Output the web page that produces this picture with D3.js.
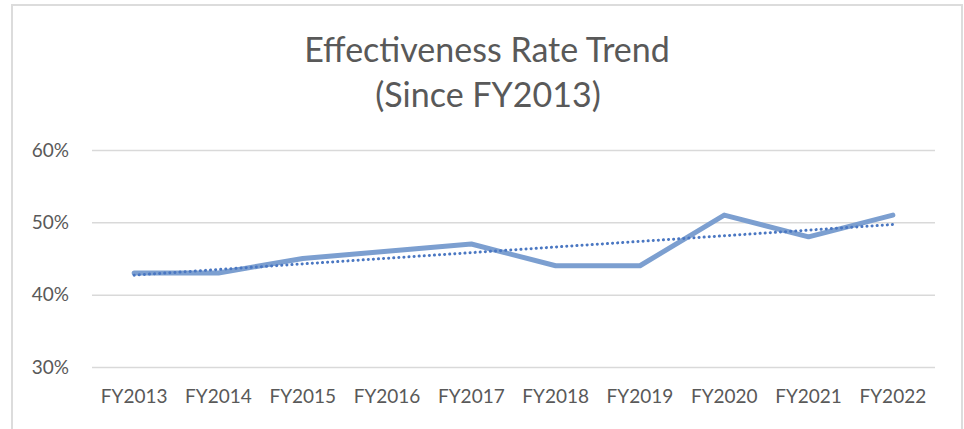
<!DOCTYPE html>
<html>
<head>
<meta charset="utf-8">
<script src="https://cdn.jsdelivr.net/npm/d3@7"></script>
<style>
  body { margin: 0; background: #fff; }
  svg { display: block; font-family: Lato, "Open Sans", sans-serif; }
</style>
</head>
<body>
<svg width="964" height="429"></svg>
<script>
var years = ["FY2013","FY2014","FY2015","FY2016","FY2017","FY2018","FY2019","FY2020","FY2021","FY2022"];
var rates = [43, 43, 45, 46, 47, 44, 44, 51, 48, 51];
// linear trendline ends
var trendEnds = [42.7, 49.7];
var yTicks = [30, 40, 50, 60];

var svg = d3.select("svg"),
    width = +svg.attr("width"),
    height = +svg.attr("height");

var margin = {left: 92, right: 29, top: 150, bottom: 62};

// chart frame
svg.append("path")
    .attr("d", "M12,430 V5 H962 V430")
    .attr("fill", "none")
    .attr("stroke", "#dcdcdc")
    .attr("stroke-width", 2);

var x = d3.scaleBand()
    .domain(years)
    .range([margin.left, width - margin.right]);

var y = d3.scaleLinear()
    .domain([30, 60])
    .range([height - margin.bottom, margin.top]);

// title
var title = svg.append("text")
    .attr("text-anchor", "middle")
    .style("font-size", "34px")
    .style("fill", "#595959");
title.append("tspan").attr("x", 487).attr("y", 62).text("Effectiveness Rate Trend");
title.append("tspan").attr("x", 488).attr("y", 107).text("(Since FY2013)");

// gridlines + y labels
var yAxis = svg.append("g")
    .attr("transform", "translate(" + margin.left + ",0)")
    .call(d3.axisLeft(y).tickValues(yTicks)
      .tickSize(-(width - margin.left - margin.right))
      .tickPadding(23)
      .tickFormat(function(d) { return d + "%"; }));
yAxis.select(".domain").remove();
yAxis.selectAll(".tick line").attr("stroke", "#d9d9d9").attr("stroke-width", 1.5);
yAxis.selectAll(".tick text")
    .style("font-size", "19px")
    .style("fill", "#595959")
    .style("font-family", "Lato, sans-serif");

// x labels
var xAxis = svg.append("g")
    .attr("transform", "translate(0," + (height - margin.bottom) + ")")
    .call(d3.axisBottom(x).tickSize(0).tickPadding(23));
xAxis.select(".domain").remove();
xAxis.selectAll(".tick text")
    .style("font-size", "19px")
    .style("fill", "#595959")
    .style("font-family", "Lato, sans-serif");

var cx = function(d) { return x(d) + x.bandwidth() / 2; };

// data line
var line = d3.line()
    .x(function(d, i) { return cx(years[i]); })
    .y(function(d) { return y(d); });

svg.append("path")
    .datum(rates)
    .attr("fill", "none")
    .attr("stroke", "#7c9fd0")
    .attr("stroke-width", 5)
    .attr("stroke-linejoin", "round")
    .attr("stroke-linecap", "round")
    .attr("d", line);

// trendline
svg.append("line")
    .attr("x1", cx(years[0]))
    .attr("y1", y(trendEnds[0]))
    .attr("x2", cx(years[years.length - 1]))
    .attr("y2", y(trendEnds[1]))
    .attr("stroke", "#4a77c2")
    .attr("stroke-width", 3)
    .attr("stroke-linecap", "round")
    .attr("stroke-dasharray", "0.1 5");
</script>
</body>
</html>
